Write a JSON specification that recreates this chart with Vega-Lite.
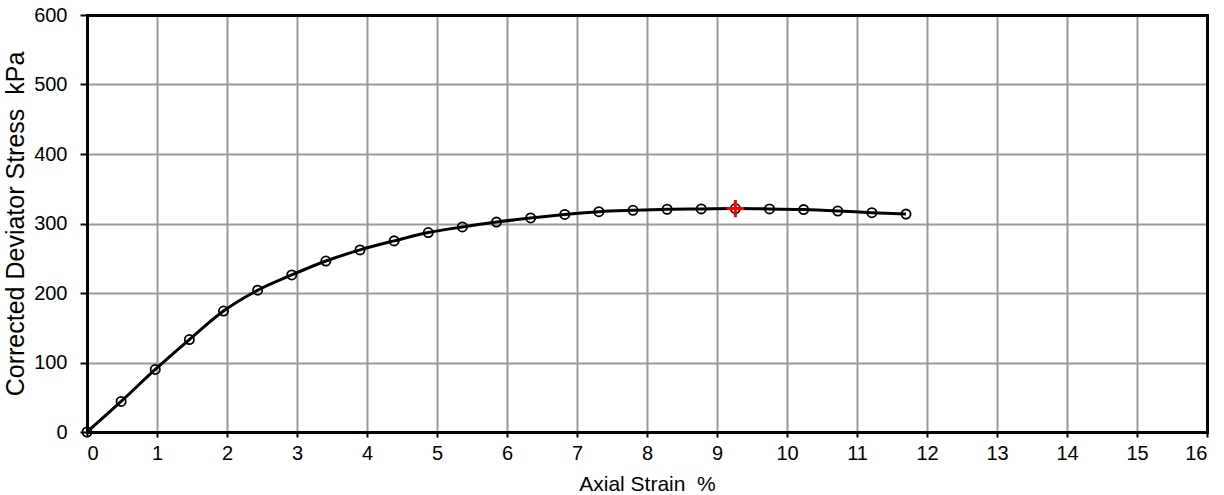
{
  "$schema": "https://vega.github.io/schema/vega-lite/v6.json",
  "width": 1120,
  "height": 417,
  "autosize": "none",
  "padding": {"left": 87, "top": 15, "right": 18, "bottom": 63},
  "config": {
    "view": {"stroke": null},
    "font": "Liberation Sans",
    "axis": {
      "domainColor": "black",
      "domainWidth": 3,
      "domainCap": "square",
      "gridColor": "#999999",
      "gridWidth": 2,
      "gridOpacity": 1,
      "tickColor": "black",
      "tickWidth": 2,
      "labelFont": "Liberation Sans",
      "labelColor": "black",
      "titleFont": "Liberation Sans",
      "titleFontWeight": "normal",
      "titleColor": "black"
    }
  },
  "data": {
    "values": [
      {"strain": 0.0, "stress": 0},
      {"strain": 0.4875, "stress": 44},
      {"strain": 0.975, "stress": 90},
      {"strain": 1.4625, "stress": 133},
      {"strain": 1.95, "stress": 174},
      {"strain": 2.4375, "stress": 204},
      {"strain": 2.925, "stress": 226},
      {"strain": 3.4125, "stress": 246},
      {"strain": 3.9, "stress": 262},
      {"strain": 4.3875, "stress": 275},
      {"strain": 4.875, "stress": 287},
      {"strain": 5.3625, "stress": 295},
      {"strain": 5.85, "stress": 302},
      {"strain": 6.3375, "stress": 308},
      {"strain": 6.825, "stress": 313},
      {"strain": 7.3125, "stress": 317},
      {"strain": 7.8, "stress": 319},
      {"strain": 8.2875, "stress": 320.5},
      {"strain": 8.775, "stress": 321},
      {"strain": 9.2625, "stress": 321.5},
      {"strain": 9.75, "stress": 321},
      {"strain": 10.2375, "stress": 320},
      {"strain": 10.725, "stress": 318},
      {"strain": 11.2125, "stress": 315.5},
      {"strain": 11.7, "stress": 313.5}
    ]
  },
  "resolve": {"axis": {"x": "independent", "y": "independent"}},
  "layer": [
    {
      "mark": {"type": "line", "color": "black", "strokeWidth": 3, "interpolate": "monotone"},
      "encoding": {
        "x": {
          "field": "strain", "type": "quantitative",
          "scale": {"domain": [0, 16], "nice": false},
          "axis": {"orient": "top", "values": [1,2,3,4,5,6,7,8,9,10,11,12,13,14,15], "grid": true, "labels": false, "ticks": false, "domain": true, "title": null}
        },
        "y": {
          "field": "stress", "type": "quantitative",
          "scale": {"domain": [0, 600], "nice": false},
          "axis": {"orient": "right", "values": [100,200,300,400,500], "grid": true, "labels": false, "ticks": false, "domain": true, "title": null}
        }
      }
    },
    {
      "mark": {"type": "point", "shape": "circle", "color": "black", "filled": false, "size": 85, "strokeWidth": 1.8, "opacity": 1},
      "encoding": {
        "x": {
          "field": "strain", "type": "quantitative",
          "axis": {"orient": "bottom", "values": [0,1,2,3,4,5,6,7,8,9,10,11,12,13,14,15,16], "grid": false, "domain": true, "tickSize": 5, "labelFontSize": 20, "labelPadding": 6, "title": "Axial Strain\u00a0\u00a0%", "titleFontSize": 21, "titlePadding": 10}
        },
        "y": {
          "field": "stress", "type": "quantitative",
          "axis": {"orient": "left", "values": [0,100,200,300,400,500,600], "grid": false, "domain": true, "tickSize": 7, "labelFontSize": 20, "labelPadding": 13, "title": "Corrected Deviator Stress\u00a0\u00a0kPa", "titleFontSize": 25, "titlePadding": 5}
        }
      }
    },
    {
      "transform": [{"filter": "datum.strain == 9.2625"}],
      "mark": {"type": "point", "shape": "M-1,0L1,0M0,-1L0,1", "color": "red", "filled": false, "size": 300, "strokeWidth": 3, "opacity": 1},
      "encoding": {
        "x": {"field": "strain", "type": "quantitative", "axis": null},
        "y": {"field": "stress", "type": "quantitative", "axis": null}
      }
    }
  ]
}
